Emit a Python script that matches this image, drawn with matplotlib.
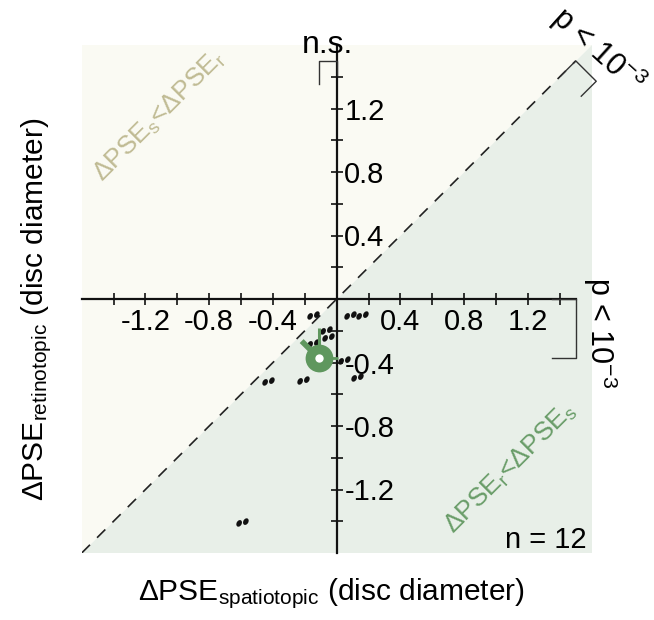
import numpy as np
import matplotlib
matplotlib.use('Agg')
import matplotlib.pyplot as plt
from matplotlib.path import Path
from matplotlib.transforms import Affine2D

plt.rcParams['font.family'] = ['Liberation Sans', 'DejaVu Sans']
plt.rcParams['mathtext.fontset'] = 'custom'
plt.rcParams['mathtext.rm'] = 'Liberation Sans'
plt.rcParams['mathtext.it'] = 'Liberation Sans:italic'
plt.rcParams['mathtext.bf'] = 'Liberation Sans:bold'
plt.rcParams['axes.unicode_minus'] = False

# ---------------- data ----------------
x_spatiotopic = [-0.149, -0.067, -0.055, 0.084, 0.159, 0.046, 0.128, -0.432, -0.212, -0.596, -0.149, -0.100]
y_retinotopic = [-0.101, -0.195, -0.239, -0.101, -0.101, -0.384, -0.491, -0.516, -0.509, -1.403, -0.277, -0.350]
mean_x = -0.114
mean_y = -0.371
err_y_up = 0.19
err_x_right = 0.123
err_diag = 0.106
major_ticks = [-1.2, -0.8, -0.4, 0.4, 0.8, 1.2]
tick_labels = ['-1.2', '-0.8', '-0.4', '0.4', '0.8', '1.2']
minor_ticks = [-1.4, -1.0, -0.6, -0.2, 0.2, 0.6, 1.0, 1.4]
lim = 1.6
n_subjects = 12

W, H = 654, 620
def fx(x): return x / W
def fy(y): return 1 - y / H

fig = plt.figure(figsize=(W / 100, H / 100), dpi=100)
ax = fig.add_axes([fx(81.7), fy(553), 510 / W, 508 / H])
ax.set_xlim(-lim, lim)
ax.set_ylim(-lim, lim)
ax.set_facecolor('none')

# shaded halves
ax.fill([-lim, -lim, lim], [-lim, lim, lim], color='#fafaf3', lw=0, zorder=0)
ax.fill([-lim, lim, lim], [-lim, -lim, lim], color='#e8efe8', lw=0, zorder=0)

# axes through the origin
ax.spines['top'].set_visible(False)
ax.spines['left'].set_visible(False)
ax.spines['bottom'].set_position(('data', 0))
ax.spines['right'].set_position(('data', 0))
ax.spines['bottom'].set_bounds(-lim, 1.5)
ax.spines['right'].set_bounds(-lim, lim)
for s in ['bottom', 'right']:
    ax.spines[s].set_linewidth(1.6)
    ax.spines[s].set_color('#111')
ax.yaxis.tick_right()
ax.set_xticks(major_ticks)
ax.set_xticklabels(tick_labels)
ax.set_xticks(minor_ticks, minor=True)
ax.set_yticks(major_ticks)
ax.set_yticklabels(tick_labels)
ax.set_yticks(minor_ticks, minor=True)
ax.tick_params(which='both', direction='inout', length=9, width=1.2, color='#111', labelsize=21)
ax.tick_params(axis='x', which='both', pad=2)
ax.tick_params(axis='y', which='both', pad=1)

# diagonal
ax.plot([-lim, 1.5], [-lim, 1.5], color='#222', lw=1.2, ls=(0, (7, 6)), zorder=1)

# paired-dot marker
circ = Path.unit_circle()
e1 = circ.transformed(Affine2D().scale(0.72, 1.0).rotate_deg(-30).translate(-0.95, -0.25))
e2 = circ.transformed(Affine2D().scale(0.72, 1.0).rotate_deg(-30).translate(0.95, 0.25))
pair = Path.make_compound_path(e1, e2)
ax.plot(x_spatiotopic, y_retinotopic, ls='none', marker=pair, ms=9, color='#111', mec='none', zorder=4)

# mean marker with one-sided error stems
g = '#5f975e'
ax.plot([mean_x, mean_x], [mean_y, mean_y + err_y_up], color=g, lw=2.2, solid_capstyle='butt', zorder=5)
ax.plot([mean_x, mean_x + err_x_right], [mean_y, mean_y], color=g, lw=2.0, solid_capstyle='butt', zorder=5)
ax.plot([mean_x, mean_x - err_diag], [mean_y, mean_y + err_diag], color=g, lw=4.0, solid_capstyle='butt', zorder=5)
ax.plot([mean_x], [mean_y], 'o', ms=20, color=g, mec='none', zorder=6)
ax.plot([mean_x], [mean_y], 'o', ms=6, color='white', mec='none', zorder=7)

# brackets
bc = '#333'
ax.plot([mean_x, mean_x, 0, 0], [1.357, 1.499, 1.499, 1.41], color=bc, lw=1.0, zorder=3)
ax.plot([1.35, 1.5, 1.5, 1.35], [0, 0, mean_y, mean_y], color=bc, lw=1.0, zorder=3)
half = (mean_x - mean_y) / 2
Ax, Ay = 1.5, 1.5
Bx, By = Ax + half, Ay - half
leg = 0.094
ax.plot([Ax - leg, Ax, Bx, Bx - leg], [Ay - leg, Ay, By, By - leg], color=bc, lw=1.0, zorder=3, clip_on=False)

# texts
fig.text(fx(327), fy(53), 'n.s.', fontsize=23, ha='center', va='baseline')
fig.text(fx(600), fy(333), r'p < 10$^{\mathregular{-3}}$', fontsize=22, rotation=-90,
         rotation_mode='anchor', ha='center', va='center')
fig.text(fx(598), fy(50), r'p < 10$^{\mathregular{-3}}$', fontsize=22, rotation=-42,
         rotation_mode='anchor', ha='center', va='center')
fig.text(fx(587), fy(548), 'n = %d' % n_subjects, fontsize=21, ha='right', va='baseline')
fig.text(fx(159), fy(116), r'ΔPSE$_{\mathregular{s}}$<ΔPSE$_{\mathregular{r}}$', fontsize=19, color='#c0bb94',
         rotation=45, rotation_mode='anchor', ha='center', va='center')
fig.text(fx(510), fy(468), r'ΔPSE$_{\mathregular{r}}$<ΔPSE$_{\mathregular{s}}$', fontsize=19, color='#6a9d69',
         rotation=45, rotation_mode='anchor', ha='center', va='center')
fig.text(fx(331), fy(600), r'ΔPSE$_{\mathregular{spatiotopic}}$ (disc diameter)', fontsize=21.5,
         ha='center', va='baseline')
fig.text(fx(43), fy(309), r'ΔPSE$_{\mathregular{retinotopic}}$ (disc diameter)', fontsize=21.5,
         rotation=90, rotation_mode='anchor', ha='center', va='baseline')

fig.savefig('out.png', dpi=100)
